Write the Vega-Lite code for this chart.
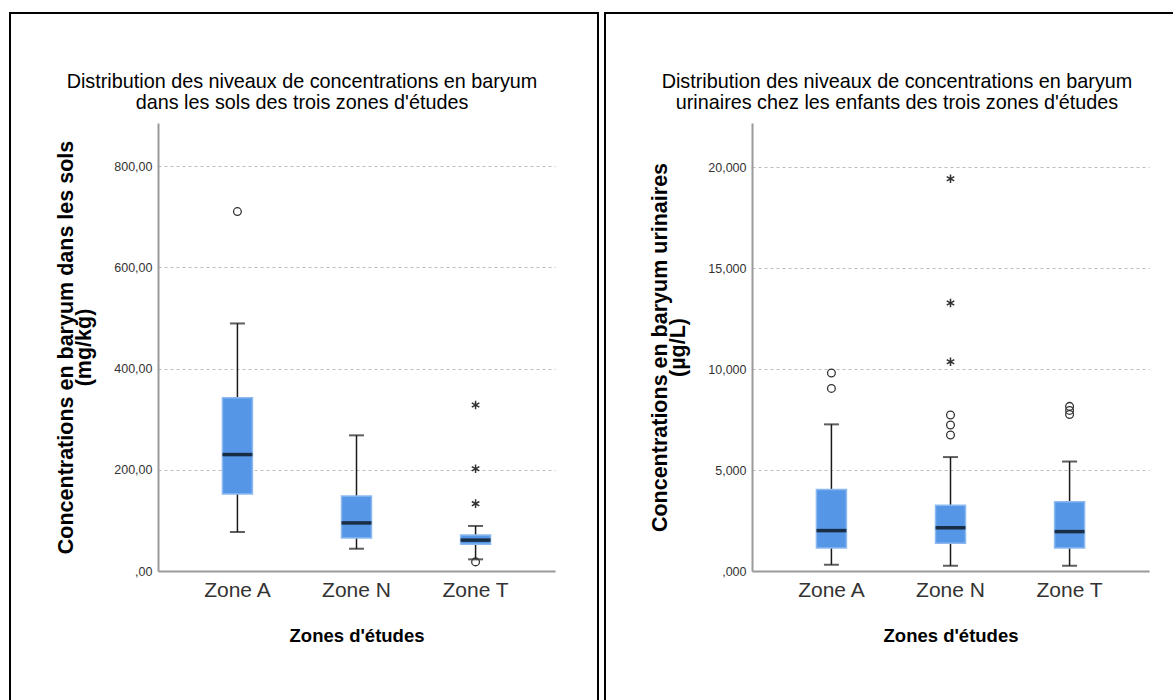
{
  "$schema": "https://vega.github.io/schema/vega-lite/v6.json",
  "padding": {"left": 9, "top": 12, "right": 0, "bottom": 0},
  "autosize": {"type": "pad"},
  "background": "white",
  "spacing": 5,
  "datasets": {
    "sols_boites": [
      {"zone": "Zone A", "bas": 77, "q1": 152, "mediane": 230, "q3": 342, "haut": 489},
      {"zone": "Zone N", "bas": 44, "q1": 65, "mediane": 95, "q3": 148, "haut": 268},
      {"zone": "Zone T", "bas": 23, "q1": 53, "mediane": 61, "q3": 71, "haut": 89}
    ],
    "sols_atypiques": [
      {"zone": "Zone A", "valeur": 710, "type": "aberrant"},
      {"zone": "Zone T", "valeur": 18, "type": "aberrant"},
      {"zone": "Zone T", "valeur": 328, "type": "extreme"},
      {"zone": "Zone T", "valeur": 202, "type": "extreme"},
      {"zone": "Zone T", "valeur": 133, "type": "extreme"}
    ],
    "urines_boites": [
      {"zone": "Zone A", "bas": 0.31, "q1": 1.14, "mediane": 2.0, "q3": 4.04, "haut": 7.26},
      {"zone": "Zone N", "bas": 0.26, "q1": 1.37, "mediane": 2.14, "q3": 3.25, "haut": 5.64},
      {"zone": "Zone T", "bas": 0.26, "q1": 1.14, "mediane": 1.95, "q3": 3.43, "haut": 5.42}
    ],
    "urines_atypiques": [
      {"zone": "Zone A", "valeur": 9.8, "type": "aberrant"},
      {"zone": "Zone A", "valeur": 9.04, "type": "aberrant"},
      {"zone": "Zone N", "valeur": 7.72, "type": "aberrant"},
      {"zone": "Zone N", "valeur": 7.23, "type": "aberrant"},
      {"zone": "Zone N", "valeur": 6.73, "type": "aberrant"},
      {"zone": "Zone N", "valeur": 10.36, "type": "extreme"},
      {"zone": "Zone N", "valeur": 13.27, "type": "extreme"},
      {"zone": "Zone N", "valeur": 19.42, "type": "extreme"},
      {"zone": "Zone T", "valeur": 8.15, "type": "aberrant"},
      {"zone": "Zone T", "valeur": 7.95, "type": "aberrant"},
      {"zone": "Zone T", "valeur": 7.75, "type": "aberrant"}
    ]
  },
  "config": {
    "view": {"stroke": "#000", "strokeWidth": 2},
    "font": "Liberation Sans",
    "axis": {
      "domainColor": "#9a9a9a",
      "domainWidth": 2,
      "ticks": false,
      "labelFont": "Liberation Sans",
      "labelColor": "#333333",
      "titleFont": "Liberation Sans",
      "titleColor": "#000000",
      "titleFontWeight": "bold",
      "gridColor": "#bdbdbd",
      "gridDash": [3, 3],
      "gridWidth": 1
    },
    "axisY": {"labelFontSize": 12.5, "labelPadding": 6, "titleFontSize": 21.5, "titlePadding": 18, "titleLineHeight": 18},
    "axisX": {"labelFontSize": 21, "labelPadding": 8, "titleFontSize": 18.5, "titlePadding": 26, "grid": false, "labelAngle": 0},
    "title": {
      "font": "Liberation Sans",
      "fontSize": 19.8,
      "fontWeight": "normal",
      "color": "#000000",
      "anchor": "middle",
      "lineHeight": 21,
      "baseline": "top",
      "offset": -100
    }
  },
  "hconcat": [
    {
      "width": 588,
      "height": 700,
      "title": {"text": ["Distribution des niveaux de concentrations en baryum", "dans les sols des trois zones d'études"], "dx": -2},
      "layer": [
        {
          "data": {"name": "sols_boites"},
          "mark": {"type": "rule", "color": "#1a1a1a", "strokeWidth": 1.5},
          "encoding": {
            "x": {"field": "zone", "type": "nominal", "sort": null,
                  "scale": {"type": "band", "domain": ["Zone A", "Zone N", "Zone T"], "range": [148, 545], "paddingInner": 0, "paddingOuter": 0.167},
                  "axis": {"title": "Zones d'études", "offset": -142}},
            "y": {"field": "bas", "type": "quantitative",
                  "scale": {"domain": [0, 885], "range": [558, 110], "nice": false, "zero": true},
                  "axis": {"title": ["Concentrations en baryum dans les sols", "(mg/kg)"], "values": [0, 200, 400, 600, 800], "offset": -148, "grid": true,
                           "labelExpr": "datum.value == 0 ? ',00' : replace(format(datum.value, '.2f'), '.', ',')"}},
            "y2": {"field": "haut"}
          }
        },
        {
          "data": {"name": "sols_boites"},
          "mark": {"type": "tick", "color": "#1a1a1a", "size": 15, "thickness": 2},
          "encoding": {"x": {"field": "zone", "type": "nominal"}, "y": {"field": "bas", "type": "quantitative"}}
        },
        {
          "data": {"name": "sols_boites"},
          "mark": {"type": "tick", "color": "#1a1a1a", "size": 15, "thickness": 2},
          "encoding": {"x": {"field": "zone", "type": "nominal"}, "y": {"field": "haut", "type": "quantitative"}}
        },
        {
          "data": {"name": "sols_boites"},
          "mark": {"type": "bar", "size": 30, "fill": "#5596e6", "stroke": "#8cbaf0", "strokeWidth": 1.5},
          "encoding": {"x": {"field": "zone", "type": "nominal"}, "y": {"field": "q1", "type": "quantitative"}, "y2": {"field": "q3"}}
        },
        {
          "data": {"name": "sols_boites"},
          "mark": {"type": "tick", "color": "#000000", "size": 30, "thickness": 3.5},
          "encoding": {"x": {"field": "zone", "type": "nominal"}, "y": {"field": "mediane", "type": "quantitative"}}
        },
        {
          "data": {"name": "sols_atypiques"},
          "transform": [{"filter": "datum.type == 'aberrant'"}],
          "mark": {"type": "point", "shape": "circle", "filled": false, "stroke": "#333333", "strokeWidth": 1.3, "size": 60, "opacity": 1},
          "encoding": {"x": {"field": "zone", "type": "nominal"}, "y": {"field": "valeur", "type": "quantitative"}}
        },
        {
          "data": {"name": "sols_atypiques"},
          "transform": [{"filter": "datum.type == 'extreme'"}],
          "mark": {"type": "point", "shape": "M0,-1L0,1M-0.87,-0.5L0.87,0.5M-0.87,0.5L0.87,-0.5", "filled": false, "stroke": "#333333", "strokeWidth": 1.5, "size": 75, "opacity": 1},
          "encoding": {"x": {"field": "zone", "type": "nominal"}, "y": {"field": "valeur", "type": "quantitative"}}
        }
      ]
    },
    {
      "width": 572,
      "height": 700,
      "title": {"text": ["Distribution des niveaux de concentrations en baryum", "urinaires chez les enfants des trois zones d'études"], "dx": 6},
      "layer": [
        {
          "data": {"name": "urines_boites"},
          "mark": {"type": "rule", "color": "#1a1a1a", "strokeWidth": 1.5},
          "encoding": {
            "x": {"field": "zone", "type": "nominal", "sort": null,
                  "scale": {"type": "band", "domain": ["Zone A", "Zone N", "Zone T"], "range": [147, 544], "paddingInner": 0, "paddingOuter": 0.167},
                  "axis": {"title": "Zones d'études", "offset": -142}},
            "y": {"field": "bas", "type": "quantitative",
                  "scale": {"domain": [0, 22.18], "range": [558, 110], "nice": false, "zero": true},
                  "axis": {"title": ["Concentrations en baryum urinaires", "(µg/L)"], "values": [0, 5, 10, 15, 20], "offset": -147, "grid": true,
                           "labelExpr": "datum.value == 0 ? ',000' : replace(format(datum.value, '.3f'), '.', ',')"}},
            "y2": {"field": "haut"}
          }
        },
        {
          "data": {"name": "urines_boites"},
          "mark": {"type": "tick", "color": "#1a1a1a", "size": 15, "thickness": 2},
          "encoding": {"x": {"field": "zone", "type": "nominal"}, "y": {"field": "bas", "type": "quantitative"}}
        },
        {
          "data": {"name": "urines_boites"},
          "mark": {"type": "tick", "color": "#1a1a1a", "size": 15, "thickness": 2},
          "encoding": {"x": {"field": "zone", "type": "nominal"}, "y": {"field": "haut", "type": "quantitative"}}
        },
        {
          "data": {"name": "urines_boites"},
          "mark": {"type": "bar", "size": 30, "fill": "#5596e6", "stroke": "#8cbaf0", "strokeWidth": 1.5},
          "encoding": {"x": {"field": "zone", "type": "nominal"}, "y": {"field": "q1", "type": "quantitative"}, "y2": {"field": "q3"}}
        },
        {
          "data": {"name": "urines_boites"},
          "mark": {"type": "tick", "color": "#000000", "size": 30, "thickness": 3.5},
          "encoding": {"x": {"field": "zone", "type": "nominal"}, "y": {"field": "mediane", "type": "quantitative"}}
        },
        {
          "data": {"name": "urines_atypiques"},
          "transform": [{"filter": "datum.type == 'aberrant'"}],
          "mark": {"type": "point", "shape": "circle", "filled": false, "stroke": "#333333", "strokeWidth": 1.3, "size": 60, "opacity": 1},
          "encoding": {"x": {"field": "zone", "type": "nominal"}, "y": {"field": "valeur", "type": "quantitative"}}
        },
        {
          "data": {"name": "urines_atypiques"},
          "transform": [{"filter": "datum.type == 'extreme'"}],
          "mark": {"type": "point", "shape": "M0,-1L0,1M-0.87,-0.5L0.87,0.5M-0.87,0.5L0.87,-0.5", "filled": false, "stroke": "#333333", "strokeWidth": 1.5, "size": 75, "opacity": 1},
          "encoding": {"x": {"field": "zone", "type": "nominal"}, "y": {"field": "valeur", "type": "quantitative"}}
        }
      ]
    }
  ]
}
